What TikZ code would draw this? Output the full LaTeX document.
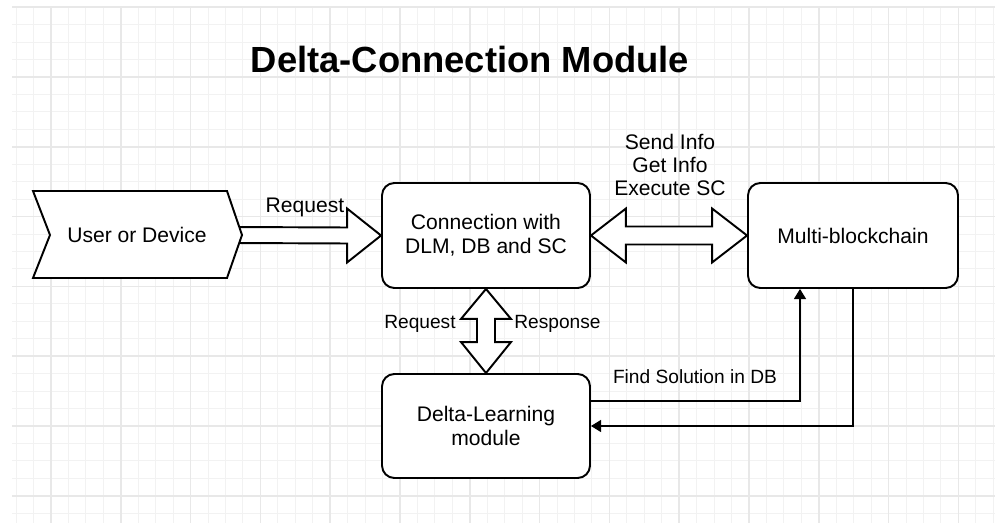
\documentclass[tikz,border=0pt]{standalone}
\usepackage{fontspec}
\setmainfont{Liberation Sans}
\usetikzlibrary{calc,arrows.meta}

\begin{document}
\begin{tikzpicture}[x=0.02cm,y=-0.02cm,
    box/.style={draw,line width=1.1pt,rounded corners=7pt,fill=white,align=center,font=\fontsize{12}{13.5}\selectfont,inner sep=0pt,minimum width=4.16cm,minimum height=2.1cm},
    fat/.style={draw,line width=1.1pt,fill=white,line join=miter},
    link/.style={draw,line width=1.1pt,-{Triangle[length=5.8pt,width=6.8pt]}},
    lbl/.style={font=\fontsize{12}{13}\selectfont,align=center,inner sep=0pt},
    small/.style={lbl,font=\fontsize{10.9}{12}\selectfont},
    minor/.style={draw=black!5,line width=0.6pt},
    major/.style={draw=black!9,line width=0.9pt}]
          \useasboundingbox (0,0) rectangle (995,523);
          \fill[white] (0,0) rectangle (995,523);

          % background grid
          \foreach \k in {-2,...,54} \draw[minor] ({51+17.45*\k},8) -- ({51+17.45*\k},523);
          \foreach \k in {-4,...,25} \draw[minor] (12,{77+17.45*\k}) -- (995,{77+17.45*\k});
          \foreach \k in {0,...,13} \draw[major] ({51+69.8*\k},8) -- ({51+69.8*\k},523);
          \foreach \k in {-1,...,6} \draw[major] (12,{77+69.8*\k}) -- (995,{77+69.8*\k});

          \node[font=\bfseries\fontsize{20.7}{25}\selectfont] (title) at (470,60) {Delta-Connection Module};

          \coordinate (usertip) at (242,235);
          \node[box] (conn) at (486,235.5) {Connection with\\DLM, DB and SC};
          \node[box,minimum width=4.2cm] (multi) at (853,235.5) {Multi-blockchain};
          \node[box,minimum height=2.08cm] (delta) at (486,426) {Delta-Learning\\module};

          \draw[fat] ($(usertip)+(-10,-8)$) -- ($(conn.west)+(-34,-8)$) -- ($(conn.west)+(-34,-27)$) -- (conn.west) -- ($(conn.west)+(-34,27)$) -- ($(conn.west)+(-34,8)$) -- ($(usertip)+(-10,8)$);
          \draw[fat] (33,191) -- (227,191) -- (usertip) -- (227,278) -- (33,278) -- (50,235) -- cycle;
          \node[lbl] (user) at (137,235) {User or Device};

          \draw[fat] (conn.east) -- ++(35,-27) -- ++(0,18) -- ($(multi.west)+(-35,-9)$) -- ++(0,-18) -- (multi.west) -- ++(-35,27) -- ++(0,-18) -- ($(conn.east)+(35,9)$) -- ++(0,18) -- cycle;
          \draw[fat] (conn.south) -- ++(-25,30) -- ++(16,0) -- ($(delta.north)+(-9,-31)$) -- ++(-16,0) -- (delta.north) -- ++(25,-31) -- ++(-16,0) -- ($(conn.south)+(9,30)$) -- ++(16,0) -- cycle;

          \draw[link] ($(delta.east)+(0,-25)$) -| ($(multi.south)+(-53,0)$);
          \draw[link] (multi.south) |- (delta.east);

          \node[lbl] (req) at (305,207) {Request};
          \node[lbl] (ops) at (670,165) {Send Info\\Get Info\\Execute SC};
          \node[small,anchor=east] (reqdown) at (456,324) {Request};
          \node[small,anchor=west] (resp) at (514,324) {Response};
          \node[small] (find) at (695,377) {Find Solution in DB};
        \end{tikzpicture}
\end{document}
